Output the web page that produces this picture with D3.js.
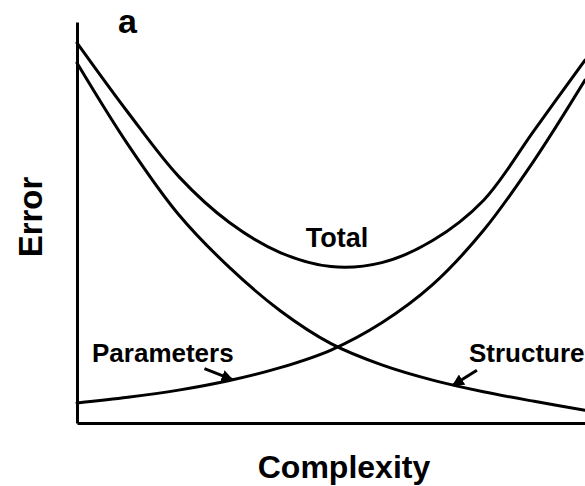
<!DOCTYPE html>
<html>
<head>
<meta charset="utf-8">
<script src="https://cdn.jsdelivr.net/npm/d3@7"></script>
<style>
  body { margin: 0; background: #fff; }
  text { font-family: "Liberation Sans", Arial, sans-serif; font-weight: bold; fill: #000; }
</style>
</head>
<body>
<div id="chart"></div>
<script>
// complexity steps (arbitrary units), errors (0-100)
const complexity = [0, 1, 2, 3, 4, 5, 6, 7, 8, 9, 10];
const structureErr = [89.8, 69.5, 52.0, 38.8, 28.0, 19.8, 14.5, 10.7, 7.8, 5.4, 3.2];
const parameterErr = [5.0, 6.4, 8.2, 10.6, 13.8, 18.2, 25.0, 34.5, 48.0, 65.5, 85.5];
const totalErr = [94.8, 77.5, 61.5, 50.0, 42.5, 39.0, 40.0, 45.5, 55.5, 73.0, 90.5];

// arrow annotations: tip in data units, tail offset in px
const arrows = [
  { x: 3.06, y: 10.8, dx: -28, dy: -11 },  // Parameters
  { x: 7.4, y: 9.4, dx: 24, dy: -15 }      // Structure
];

const width = 585, height = 486;
const x = d3.scaleLinear().domain([0, 10]).range([77, 585]);
const y = d3.scaleLinear().domain([0, 100]).range([423, 22]);

const svg = d3.select("#chart").append("svg")
  .attr("width", width)
  .attr("height", height);

// axes: plain lines, no ticks
svg.append("g")
  .attr("transform", `translate(${x(0)},0)`)
  .call(d3.axisLeft(y).ticks(0).tickSize(0).tickSizeOuter(0))
  .select(".domain").attr("stroke", "#000").attr("stroke-width", 3);

svg.append("g")
  .attr("transform", `translate(0,${y(0)})`)
  .call(d3.axisBottom(x).ticks(0).tickSize(0).tickSizeOuter(0))
  .select(".domain").attr("stroke", "#000").attr("stroke-width", 3);

const line = d3.line()
  .x((d, i) => x(complexity[i]))
  .y(d => y(d))
  .curve(d3.curveCatmullRom.alpha(0.5));

[structureErr, parameterErr, totalErr].forEach(series => {
  svg.append("path")
    .datum(series)
    .attr("fill", "none")
    .attr("stroke", "#000")
    .attr("stroke-width", 3)
    .attr("stroke-linecap", "round")
    .attr("d", line);
});

// arrows
svg.append("defs").append("marker")
  .attr("id", "head")
  .attr("viewBox", "0 0 10 10")
  .attr("refX", 9).attr("refY", 5)
  .attr("markerWidth", 4).attr("markerHeight", 4)
  .attr("orient", "auto")
  .append("path")
  .attr("d", "M0,0L10,5L0,10z")
  .attr("fill", "#000");

arrows.forEach(a => {
  svg.append("line")
    .attr("x1", x(a.x) + a.dx).attr("y1", y(a.y) + a.dy)
    .attr("x2", x(a.x)).attr("y2", y(a.y))
    .attr("stroke", "#000")
    .attr("stroke-width", 3)
    .attr("marker-end", "url(#head)");
});

// labels
svg.append("text").attr("x", 118).attr("y", 33).attr("font-size", 34).text("a");
svg.append("text").attr("x", 337).attr("y", 247).attr("text-anchor", "middle").attr("font-size", 27).text("Total");
svg.append("text").attr("x", 92).attr("y", 362).attr("font-size", 26).text("Parameters");
svg.append("text").attr("x", 469).attr("y", 362).attr("font-size", 26).text("Structure");
svg.append("text").attr("x", 344).attr("y", 478).attr("text-anchor", "middle").attr("font-size", 32).text("Complexity");
svg.append("text")
  .attr("transform", "translate(42,217) rotate(-90)")
  .attr("text-anchor", "middle")
  .attr("font-size", 33)
  .text("Error");
</script>
</body>
</html>
